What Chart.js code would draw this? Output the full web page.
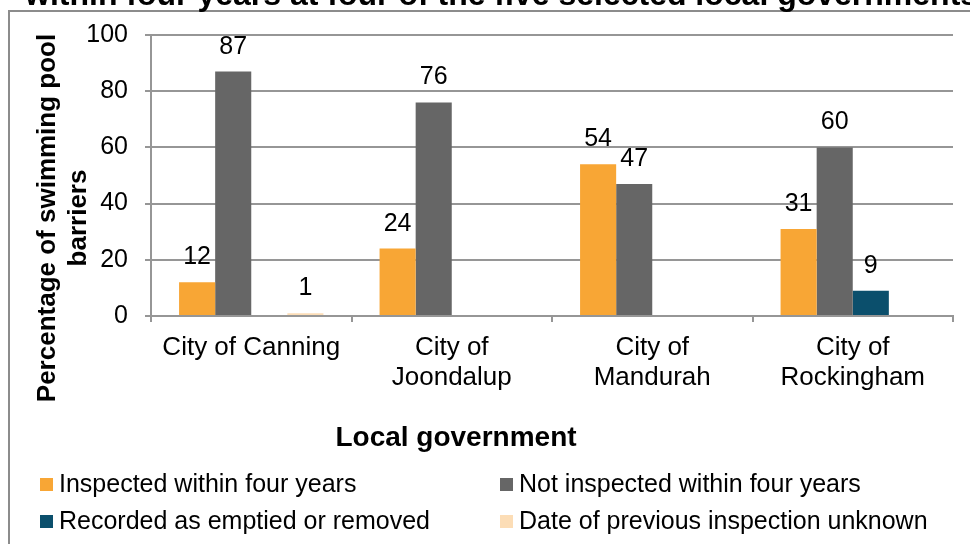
<!DOCTYPE html>
<html>
<head>
<meta charset="utf-8">
<script src="https://cdn.jsdelivr.net/npm/chart.js@4.4.1/dist/chart.umd.min.js"></script>
<style>
  html, body { margin: 0; padding: 0; background: #fff; }
  canvas { display: block; }
</style>
</head>
<body>
<canvas id="poolChart" width="970" height="544"></canvas>
<script>
'use strict';

// chart data
const categories = [
  'City of Canning',
  ['City of', 'Joondalup'],
  ['City of', 'Mandurah'],
  ['City of', 'Rockingham']
];
const inspected = [12, 24, 54, 31];
const notInspected = [87, 76, 47, 60];
const emptiedRemoved = [0, 0, 0, 9];
const dateUnknown = [1, 0, 0, 0];
const yTicks = [0, 20, 40, 60, 80, 100];

const chartTitle = 'within four years at four of the five selected local governments';
const yTitle = ['Percentage of swimming pool', 'barriers'];
const xTitle = 'Local government';

const FONT = "'Liberation Sans', Arial, sans-serif";
const gridColor = '#969696';

// titles, frame, value labels and legend drawn straight on the canvas
const extrasPlugin = {
  id: 'extras',
  afterDraw(chart) {
    const c = chart.ctx;
    c.save();

    // outer frame (runs off the right and bottom edges)
    c.strokeStyle = '#8c8c8c';
    c.lineWidth = 2;
    c.beginPath();
    c.moveTo(9, 600);
    c.lineTo(9, 11);
    c.lineTo(1000, 11);
    c.stroke();

    // chart title, cut off at the top like the source
    c.fillStyle = '#000';
    c.font = 'bold 32px ' + FONT;
    c.textAlign = 'left';
    c.textBaseline = 'alphabetic';
    c.fillText(chartTitle, 25, 5);

    // y axis title
    c.save();
    c.translate(48, 218);
    c.rotate(-Math.PI / 2);
    c.font = 'bold 26px ' + FONT;
    c.textAlign = 'center';
    c.textBaseline = 'middle';
    c.fillText(yTitle[0], 0, 0);
    c.fillText(yTitle[1], 0, 31);
    c.restore();

    // x axis title
    c.font = 'bold 28px ' + FONT;
    c.textAlign = 'center';
    c.textBaseline = 'middle';
    c.fillText(xTitle, 456, 438);

    // value labels above bars, zeros left out
    c.font = '25px ' + FONT;
    c.textBaseline = 'alphabetic';
    chart.data.datasets.forEach((ds, i) => {
      const meta = chart.getDatasetMeta(i);
      meta.data.forEach((bar, j) => {
        const v = ds.data[j];
        if (!v) return;
        c.fillText(String(v), bar.x, bar.y - 18);
      });
    });

    // legend, two columns
    const colX = [40, 500];
    const rowY = [484.5, 521.5];
    c.textAlign = 'left';
    c.textBaseline = 'middle';
    chart.data.datasets.forEach((ds, i) => {
      const x = colX[i % 2];
      const y = rowY[Math.floor(i / 2)];
      c.fillStyle = ds.backgroundColor;
      c.fillRect(x, y - 6.5, 13, 13);
      c.fillStyle = '#000';
      c.fillText(ds.label, x + 19, y + 1);
    });

    c.restore();
  }
};

const ctx = document.getElementById('poolChart').getContext('2d');
new Chart(ctx, {
  type: 'bar',
  data: {
    labels: categories,
    datasets: [
      { label: 'Inspected within four years', data: inspected, backgroundColor: '#F8A635' },
      { label: 'Not inspected within four years', data: notInspected, backgroundColor: '#666666' },
      { label: 'Recorded as emptied or removed', data: emptiedRemoved, backgroundColor: '#0B4F6C' },
      { label: 'Date of previous inspection unknown', data: dateUnknown, backgroundColor: '#FCDDB6' }
    ]
  },
  options: {
    responsive: false,
    animation: false,
    layout: { padding: { top: 35, right: 17, bottom: 0, left: 0 } },
    datasets: {
      bar: { barPercentage: 1, categoryPercentage: 0.72 }
    },
    plugins: {
      legend: { display: false },
      title: { display: false },
      tooltip: { enabled: false }
    },
    scales: {
      x: {
        afterFit: (s) => { s.height = 228; },
        grid: {
          drawOnChartArea: false,
          drawTicks: true,
          tickLength: 6,
          color: gridColor,
          lineWidth: 2
        },
        border: { display: true, color: gridColor, width: 2 },
        ticks: {
          color: '#000',
          font: { family: FONT, size: 26, lineHeight: 1.15 },
          padding: 11,
          maxRotation: 0,
          autoSkip: false
        }
      },
      y: {
        min: 0,
        max: 100,
        afterFit: (s) => { s.width = 151; },
        afterBuildTicks: (s) => { s.ticks = yTicks.map(v => ({ value: v })); },
        grid: {
          color: gridColor,
          lineWidth: 2,
          tickLength: 6
        },
        border: { display: true, color: gridColor, width: 2 },
        ticks: {
          color: '#000',
          font: { family: FONT, size: 25 },
          padding: 17
        }
      }
    }
  },
  plugins: [extrasPlugin]
});
</script>
</body>
</html>
